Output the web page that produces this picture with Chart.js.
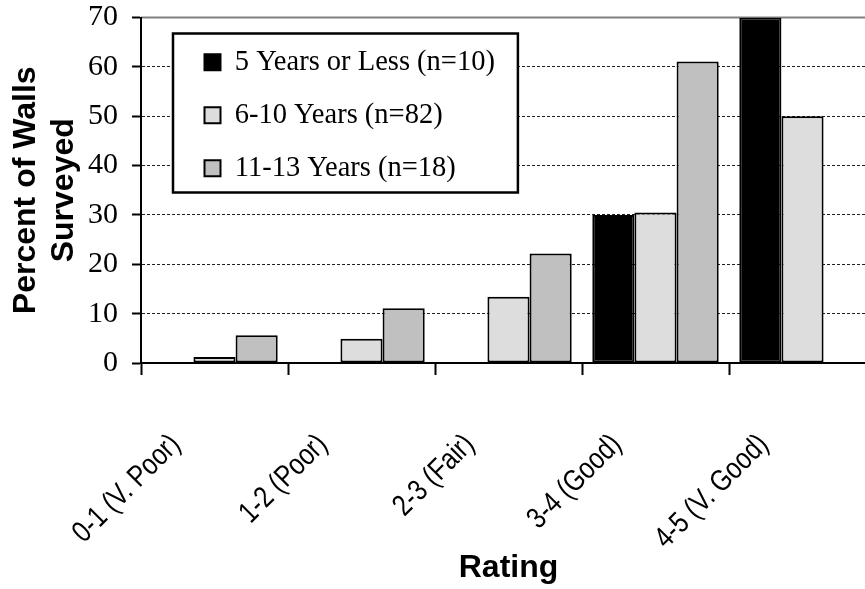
<!DOCTYPE html>
<html>
<head>
<meta charset="utf-8">
<style>
html,body{margin:0;padding:0;overflow:hidden;background:#fff;}
canvas{display:block;}
</style>
<script src="https://cdn.jsdelivr.net/npm/chart.js@4/dist/chart.umd.min.js"></script>
</head>
<body>
<canvas id="c" width="880" height="589" style="width:880px;height:589px"></canvas>
<script>
// ---- data ----
const categories = ['0-1 (V. Poor)', '1-2 (Poor)', '2-3 (Fair)', '3-4 (Good)', '4-5 (V. Good)'];
const seriesNames = ['5 Years or Less (n=10)', '6-10 Years (n=82)', '11-13 Years (n=18)'];
const years5OrLess = [0, 0, 0, 30, 70];
const years6to10 = [1.2, 4.9, 13.4, 30.5, 50];
const years11to13 = [5.6, 11.1, 22.2, 61.1, 0];
const yTickValues = [0, 10, 20, 30, 40, 50, 60, 70];
const xTitle = 'Rating';
const yTitle = ['Percent of Walls', 'Surveyed'];

const serif = '"Liberation Serif", "Times New Roman", serif';
const sans = '"Liberation Sans", Arial, sans-serif';

const CONDENSE = 0.82;

const chartDeco = {
  id: 'chartDeco',
  afterLayout(chart) {
    const ca = chart.chartArea;
    const lg = chart.legend;
    if (lg) {
      const w = lg.width;
      lg.left = ca.left + 39; lg.right = lg.left + w;
      lg.top = ca.top + 6; lg.bottom = ca.bottom;
      if (!lg._framed) {
        const orig = lg.draw;
        lg.draw = function () {
          const ctx = chart.ctx;
          const a = chart.chartArea;
          ctx.save();
          // plot-area top border
          ctx.strokeStyle = '#808080';
          ctx.lineWidth = 2;
          ctx.beginPath();
          ctx.moveTo(a.left, a.top);
          ctx.lineTo(a.right, a.top);
          ctx.stroke();
          // legend frame
          const x0 = this.left - 7, y0 = this.top + 10;
          const x1 = this.left + this.width + 13, y1 = this.top + 169;
          ctx.fillStyle = '#fff';
          ctx.fillRect(x0, y0, x1 - x0, y1 - y0);
          ctx.lineWidth = 2.5;
          ctx.strokeStyle = '#000';
          ctx.strokeRect(x0, y0, x1 - x0, y1 - y0);
          ctx.restore();
          return orig.apply(this, arguments);
        };
        lg._framed = true;
      }
    }
    // narrow (condensed) category labels, like Arial Narrow
    const xs = chart.scales.x;
    if (xs && !xs._condensed) {
      const origLabels = xs.drawLabels;
      xs.drawLabels = function (area) {
        const ctx = this.ctx;
        const proto = Object.getPrototypeOf(ctx).fillText;
        ctx.fillText = function (t, x, y, mw) {
          this.save();
          this.scale(CONDENSE, 1);
          proto.call(this, t, x / CONDENSE, y);
          this.restore();
        };
        try { return origLabels.call(this, area); }
        finally { delete ctx.fillText; }
      };
      xs._condensed = true;
    }
  }
};

const ds = (label, data, color) => ({
  label, data,
  backgroundColor: color, borderColor: '#000', borderWidth: 2, borderSkipped: false,
  categoryPercentage: 0.86, barPercentage: 1.0
});

new Chart(document.getElementById('c'), {
  type: 'bar',
  data: {
    labels: categories,
    datasets: [
      ds(seriesNames[0], years5OrLess, '#000000'),
      ds(seriesNames[1], years6to10, '#dddddd'),
      ds(seriesNames[2], years11to13, '#c0c0c0')
    ]
  },
  options: {
    responsive: false,
    maintainAspectRatio: false,
    animation: false,
    devicePixelRatio: 1,
    layout: { padding: { top: 17.5, right: 4, left: 0, bottom: 0 } },
    plugins: {
      tooltip: { enabled: false },
      legend: {
        position: 'chartArea',
        align: 'start',
        labels: {
          color: '#000',
          font: { family: serif, size: 28.5 },
          boxWidth: 16, boxHeight: 16, padding: 24.5
        }
      }
    },
    scales: {
      x: {
        type: 'category',
        position: 'bottom',
        offset: true,
        grid: { display: true, drawOnChartArea: false, drawTicks: true, tickLength: 12, offset: true, tickColor: '#000', tickWidth: 2 },
        border: { display: true, color: '#000', width: 2 },
        ticks: {
          autoSkip: false, minRotation: 45, maxRotation: 45, padding: 13.6, color: '#000',
          font: { family: sans, size: 30 },
          callback: (v, i) => categories[i] + '        '
        },
        title: { display: true, text: xTitle, color: '#000', font: { family: sans, size: 32, weight: 'bold' }, padding: { top: 0, bottom: 1.3 } },
        afterFit: (s) => { s.height = 226; s.paddingLeft = 0; s.paddingRight = 0; }
      },
      y: {
        min: 0, max: 70,
        afterBuildTicks: (s) => { s.ticks = yTickValues.map(v => ({ value: v })); },
        ticks: { padding: 14, color: '#000', font: { family: serif, size: 30 } },
        grid: { color: '#222', lineWidth: 1, tickLength: 9, tickColor: '#000', tickWidth: 2 },
        border: { display: true, color: '#000', width: 2, dash: [3, 2] },
        title: { display: true, text: yTitle, color: '#000', font: { family: sans, size: 32, weight: 'bold' }, padding: { top: 6.8, bottom: 0 } },
        afterFit: (s) => { s.width = 141; s.paddingTop = 0; s.paddingBottom = 0; }
      }
    }
  },
  plugins: [chartDeco]
});
</script>
</body>
</html>
